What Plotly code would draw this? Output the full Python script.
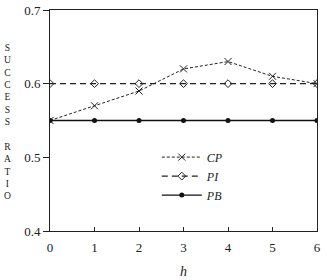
import plotly.graph_objects as go

h = [0, 1, 2, 3, 4, 5, 6]
cp = [0.55, 0.57, 0.59, 0.62, 0.63, 0.61, 0.60]
pi = [0.60, 0.60, 0.60, 0.60, 0.60, 0.60, 0.60]
pb = [0.55, 0.55, 0.55, 0.55, 0.55, 0.55, 0.55]
x_ticks = [0, 1, 2, 3, 4, 5, 6]
y_ticks = [0.4, 0.5, 0.6, 0.7]
y_title = list("SUCCESS") + [" "] + list("RATIO")

SERIF = "Liberation Serif, Times New Roman, serif"

fig = go.Figure()
fig.add_trace(go.Scatter(x=h, y=cp, name="CP", mode="lines+markers",
                         line=dict(color="#222", width=1, dash="3px,2px"),
                         marker=dict(symbol="x-thin", size=7, line=dict(width=1, color="#222"))))
fig.add_trace(go.Scatter(x=h, y=pi, name="PI", mode="lines+markers",
                         line=dict(color="#222", width=1.2, dash="6px,4px"),
                         marker=dict(symbol="diamond-open", size=6, color="#222", line=dict(width=1))))
fig.add_trace(go.Scatter(x=h, y=pb, name="PB", mode="lines+markers",
                         line=dict(color="#111", width=1.3),
                         marker=dict(symbol="circle", size=5, color="#111")))

fig.add_annotation(text="<br>".join(y_title), xref="paper", yref="paper",
                   x=-0.16, y=(231 - 122) / 221, xanchor="center", yanchor="middle",
                   showarrow=False, font=dict(family=SERIF, size=9.5, color="#222"))

fig.update_layout(
    width=327, height=280,
    margin=dict(l=50, r=10, t=10, b=49),
    plot_bgcolor="white", paper_bgcolor="white",
    font=dict(family=SERIF, size=13, color="#222"),
    showlegend=True,
    legend=dict(x=0.40, y=0.40, xanchor="left", yanchor="top", itemwidth=40,
                bgcolor="rgba(0,0,0,0)", font=dict(family=SERIF, size=12, style="italic"),
                tracegroupgap=0),
    xaxis=dict(range=[0, 6], tickvals=x_ticks, showgrid=False, zeroline=False,
               showline=True, linecolor="#222", linewidth=1, mirror=True, automargin=False,
               ticks="inside", ticklen=4, tickcolor="#222", ticklabelstandoff=4,
               title=dict(text="<i>h</i>", font=dict(family=SERIF, size=14), standoff=12)),
    yaxis=dict(range=[0.4, 0.7], tickvals=y_ticks, tickformat=".1f", showgrid=False, zeroline=False,
               showline=True, linecolor="#222", linewidth=1, mirror=True, automargin=False,
               ticks="outside", ticklen=6, tickcolor="#222"),
)

fig.write_html("out.html")
